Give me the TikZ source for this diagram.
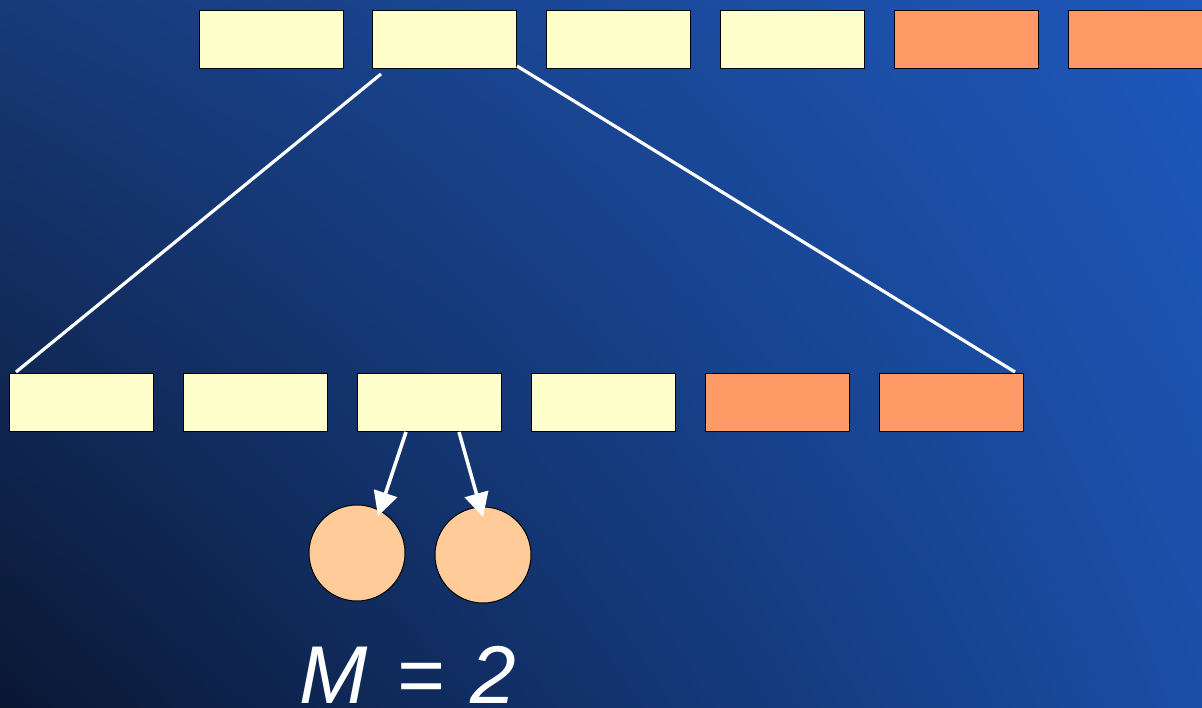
\documentclass[tikz,border=0pt]{standalone}
\usepackage{fontspec}
\setmainfont{Liberation Sans}
\usetikzlibrary{arrows.meta,shadings}
\definecolor{bgTL}{HTML}{173A78}
\definecolor{bgTR}{HTML}{1E58BC}
\definecolor{bgBL}{HTML}{0A1733}
\definecolor{bgBR}{HTML}{1A4EA6}
\definecolor{cellfree}{HTML}{FFFFCC}
\definecolor{cellused}{HTML}{FF9966}
\definecolor{ballfill}{HTML}{FFCC99}
\tikzset{
  cell/.style={draw=black, line width=1.2pt, minimum width=144pt, minimum height=58pt, inner sep=0pt, anchor=north west},
  free/.style={cell, fill=cellfree},
  used/.style={cell, fill=cellused},
  ball/.style={circle, draw=black, line width=1pt, fill=ballfill, minimum size=96pt, inner sep=0pt},
  link/.style={white, line width=3.2pt},
  ptr/.style={white, line width=3.5pt, -{Triangle[length=24pt,width=24pt]}}
}
\begin{document}
\begin{tikzpicture}[x=1pt, y=-1pt]
  \useasboundingbox (0,0) rectangle (1202,708);
  \clip (0,0) rectangle (1202,708);
  \shade[upper left=bgTL, upper right=bgTR, lower left=bgBL, lower right=bgBR]
    (0,0) rectangle (1202,708);

  % upper array
  \node[free] (u1) at (199,10) {};
  \node[free] (u2) at (372,10) {};
  \node[free] (u3) at (546,10) {};
  \node[free] (u4) at (720,10) {};
  \node[used] (u5) at (894,10) {};
  \node[used] (u6) at (1068,10) {};

  % expanded array
  \node[free] (l1) at (9,373) {};
  \node[free] (l2) at (183,373) {};
  \node[free] (l3) at (357,373) {};
  \node[free] (l4) at (531,373) {};
  \node[used] (l5) at (705,373) {};
  \node[used] (l6) at (879,373) {};

  % zoom lines
  \coordinate (zA) at (381,74);
  \coordinate (zB) at (517,66);
  \coordinate (zC) at (16,372);
  \coordinate (zD) at (1015,372);
  \draw[link] (zA) -- (zC);
  \draw[link] (zB) -- (zD);

  % two balls
  \node[ball] (b1) at (357,553) {};
  \node[ball] (b2) at (483,555) {};
  \coordinate (p1) at (406,432);
  \coordinate (p2) at (459,432);
  \draw[ptr] (p1) -- (378,516);
  \draw[ptr] (p2) -- (483,517);

  \node[anchor=base west, inner sep=0pt, text depth=0pt, text=white,
        font=\fontsize{82}{82}\selectfont\itshape] (m) at (299,703)
        {M \hspace{6pt}= \hspace{4pt}2};
\end{tikzpicture}
\end{document}
